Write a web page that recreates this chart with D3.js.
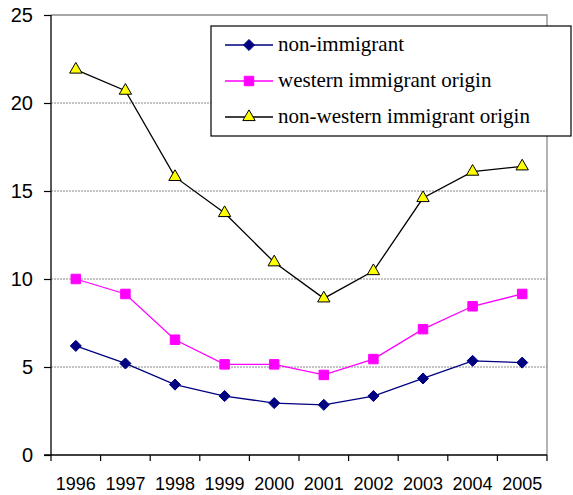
<!DOCTYPE html>
<html lang="en">
<head>
<meta charset="UTF-8">
<script src="https://cdn.jsdelivr.net/npm/d3@7"></script>
<title>Immigrant origin</title>
<style>
    body { margin: 0; background: #fff; }
    .ylab text { font-family: Arial, "Liberation Sans", sans-serif; font-size: 20px; fill: #000; }
    .xlab text { font-family: Arial, "Liberation Sans", sans-serif; font-size: 18px; fill: #000; }
    .legend text { font-family: "Times New Roman", "Liberation Serif", serif; font-size: 21px; fill: #000; }
</style>
</head>
<body>
<div id="chart"></div>
<script>
var years = ["1996", "1997", "1998", "1999", "2000", "2001", "2002", "2003", "2004", "2005"];
var yTicks = [0, 5, 10, 15, 20, 25];

var nonImmigrant = [6.2, 5.2, 4.0, 3.35, 2.95, 2.85, 3.35, 4.35, 5.35, 5.25];
var western = [10.0, 9.15, 6.55, 5.15, 5.15, 4.55, 5.45, 7.15, 8.45, 9.15];
var nonWestern = [21.9, 20.7, 15.8, 13.75, 10.95, 8.9, 10.45, 14.6, 16.1, 16.4];

var seriesNames = ["non-immigrant", "western immigrant origin", "non-western immigrant origin"];

var W = 573, H = 495;
var pLeft = 51, pRight = 547, pTop = 15, pBottom = 455;

var svg = d3.select("#chart").append("svg")
    .attr("width", W).attr("height", H);

var x = d3.scaleBand().domain(years).range([pLeft, pRight]);
var y = d3.scaleLinear().domain([0, 25]).range([pBottom, pTop]);

// gridlines
svg.append("g").selectAll("line")
    .data(yTicks.filter(function (d) { return d > 0 && d < 25; }))
    .enter().append("line")
    .attr("x1", pLeft).attr("x2", pRight)
    .attr("y1", function (d) { return y(d); })
    .attr("y2", function (d) { return y(d); })
    .attr("stroke", "#8a8a8a")
    .attr("stroke-width", 1)
    .attr("stroke-dasharray", "2,1");

// plot border (top / right gray)
svg.append("path")
    .attr("d", "M" + pLeft + "," + y(25) + "H" + pRight + "V" + pBottom)
    .attr("fill", "none")
    .attr("stroke", "#8a8a8a")
    .attr("stroke-width", 1.3);

// y axis
var yAxis = svg.append("g").attr("class", "ylab")
    .attr("transform", "translate(" + pLeft + ",0)")
    .call(d3.axisLeft(y).tickValues(yTicks).tickSize(7).tickPadding(11));
yAxis.select(".domain").attr("stroke", "#000").attr("stroke-width", 1.3)
    .attr("d", "M0," + pTop + "V" + pBottom);
yAxis.selectAll(".tick line").attr("stroke", "#000").attr("stroke-width", 1.2);
yAxis.selectAll(".tick text").attr("dy", "0.34em");

// x axis with ticks at the band boundaries
var xAxis = svg.append("g").attr("class", "xlab")
    .attr("transform", "translate(0," + pBottom + ")")
    .call(d3.axisBottom(x).tickSize(0).tickPadding(22));
xAxis.select(".domain").attr("stroke", "#000").attr("stroke-width", 1.3)
    .attr("d", "M" + (pLeft - 7) + ",0H" + pRight);
xAxis.selectAll(".tick text").attr("dy", "0.71em");
svg.append("g").selectAll("line")
    .data(years.concat(["end"]))
    .enter().append("line")
    .attr("x1", function (d, i) { return pLeft + i * x.step(); })
    .attr("x2", function (d, i) { return pLeft + i * x.step(); })
    .attr("y1", pBottom).attr("y2", pBottom + 6)
    .attr("stroke", "#000").attr("stroke-width", 1.2);

var cx = function (d, i) { return x(years[i]) + x.bandwidth() / 2; };
var line = d3.line().x(cx).y(function (d) { return y(d); });

var series = [
    { name: seriesNames[0], values: nonImmigrant, color: "#000080", sym: d3.symbolDiamond2, size: 78, fill: "#000080", mstroke: "#000080" },
    { name: seriesNames[1], values: western, color: "#ff00ff", sym: d3.symbolSquare, size: 90, fill: "#ff00ff", mstroke: "#ff00ff" },
    { name: seriesNames[2], values: nonWestern, color: "#000000", sym: d3.symbolTriangle, size: 66, fill: "#ffff00", mstroke: "#000000" }
];

function marker(sel, s) {
    sel.append("path")
        .attr("d", d3.symbol().type(s.sym).size(s.size)())
        .attr("fill", s.fill)
        .attr("stroke", s.mstroke)
        .attr("stroke-width", 1);
}

series.forEach(function (s) {
    svg.append("path")
        .datum(s.values)
        .attr("d", line)
        .attr("fill", "none")
        .attr("stroke", s.color)
        .attr("stroke-width", 1.3);
    svg.append("g").selectAll("g")
        .data(s.values)
        .enter().append("g")
        .attr("transform", function (d, i) { return "translate(" + cx(d, i) + "," + y(d) + ")"; })
        .each(function () { marker(d3.select(this), s); });
});

// legend
var lg = svg.append("g").attr("class", "legend");
lg.append("rect")
    .attr("x", 211).attr("y", 26).attr("width", 360).attr("height", 110)
    .attr("fill", "#fff").attr("stroke", "#000").attr("stroke-width", 1.2);
series.forEach(function (s, i) {
    var ly = 45 + i * 36;
    var row = lg.append("g").attr("transform", "translate(0," + ly + ")");
    row.append("line").attr("x1", 225).attr("x2", 273).attr("y1", 0).attr("y2", 0)
        .attr("stroke", s.color).attr("stroke-width", 1.3);
    var m = row.append("g").attr("transform", "translate(249,0)");
    marker(m, s);
    row.append("text").attr("x", 278).attr("y", 0).attr("dy", "0.3em").text(s.name);
});
</script>
</body>
</html>
